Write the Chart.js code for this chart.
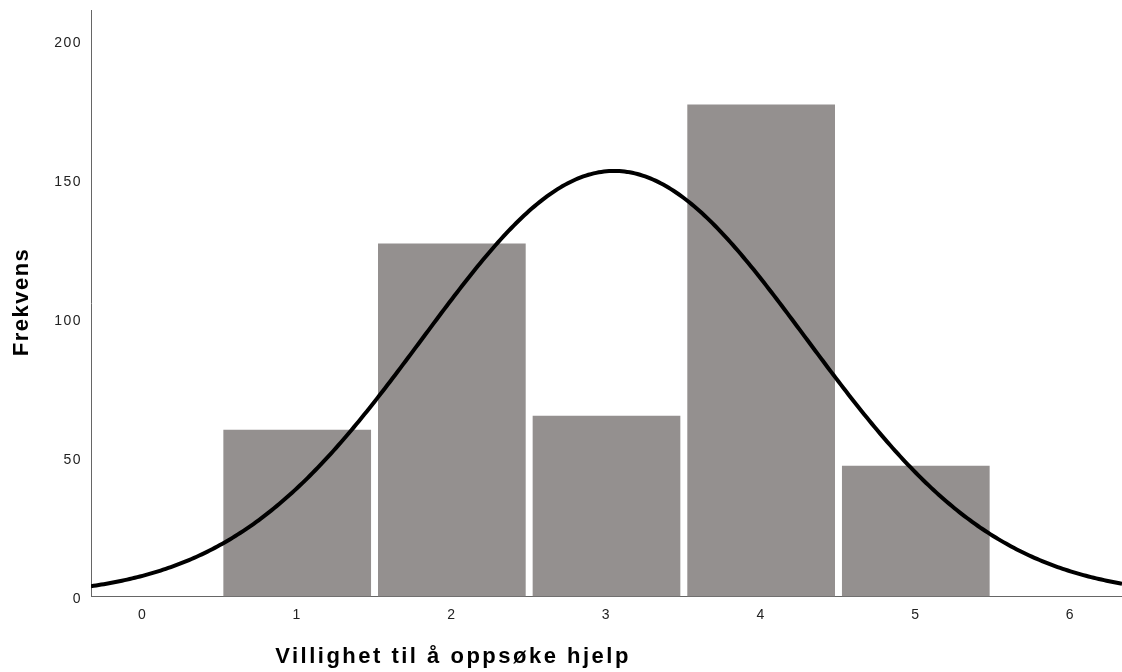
<!DOCTYPE html>
<html>
<head>
<meta charset="utf-8">
<script src="https://cdn.jsdelivr.net/npm/chart.js@4/dist/chart.umd.min.js"></script>
<style>
  html, body { margin: 0; padding: 0; background: #ffffff; }
  #wrap { width: 1122px; height: 672px; position: relative; }
</style>
</head>
<body>
<div id="wrap"><canvas id="chart"></canvas></div>
<script>
// Response categories and their counts
const categories = [1, 2, 3, 4, 5];
const frequencies = [60, 127, 65, 177, 47];

// Axis tick labels
const xTickValues = [0, 1, 2, 3, 4, 5, 6];
const yTickValues = [0, 50, 100, 150, 200];

// Axis ranges and titles
const xRange = [-1 / 3, 6 + 1 / 3];
const yMax = 211;
const xTitle = 'Villighet til å oppsøke hjelp';
const yTitle = 'Frekvens';

// Normal curve fitted to the counts (mean, sample SD, scaled by N * bin width)
const n = frequencies.reduce((a, b) => a + b, 0);
const mean = categories.reduce((s, c, i) => s + c * frequencies[i], 0) / n;
const sd = Math.sqrt(categories.reduce((s, c, i) => s + frequencies[i] * (c - mean) ** 2, 0) / (n - 1));
const curve = [];
for (let k = 0; k <= 400; k++) {
  const x = xRange[0] + (xRange[1] - xRange[0]) * k / 400;
  const y = n / (sd * Math.sqrt(2 * Math.PI)) * Math.exp(-0.5 * ((x - mean) / sd) ** 2);
  curve.push({ x, y });
}

const TITLE_FONT = 'bold 22px "Liberation Sans", Arial, sans-serif';

// Slightly spaced lettering throughout, plus the two axis titles
const lettering = {
  id: 'lettering',
  beforeDraw(chart) { chart.ctx.letterSpacing = '1.5px'; },
  afterDraw(chart) {
    const ctx = chart.ctx;
    ctx.save();
    ctx.fillStyle = '#000000';
    ctx.font = TITLE_FONT;
    ctx.textAlign = 'center';
    ctx.textBaseline = 'middle';
    ctx.letterSpacing = '2.5px';
    ctx.fillText(xTitle, 453, 657);
    ctx.letterSpacing = '1.5px';
    ctx.translate(22, 302);
    ctx.rotate(-Math.PI / 2);
    ctx.fillText(yTitle, 0, 0);
    ctx.restore();
  }
};

new Chart(document.getElementById('chart'), {
  type: 'bar',
  plugins: [lettering],
  data: {
    datasets: [
      {
        type: 'line',
        data: curve,
        borderColor: '#000000',
        borderWidth: 4,
        pointRadius: 0,
        tension: 0,
        fill: false,
        order: 0
      },
      {
        type: 'bar',
        data: categories.map((c, i) => ({ x: c, y: frequencies[i] })),
        backgroundColor: '#94908f',
        borderWidth: 0,
        barPercentage: 0.955,
        categoryPercentage: 1,
        order: 1
      }
    ]
  },
  options: {
    responsive: true,
    maintainAspectRatio: false,
    animation: false,
    layout: { padding: { top: 10, right: 0, left: 0, bottom: 0 } },
    plugins: { legend: { display: false }, tooltip: { enabled: false }, title: { display: false } },
    scales: {
      x: {
        type: 'linear',
        offset: false,
        min: xRange[0],
        max: xRange[1],
        afterBuildTicks(scale) { scale.ticks = xTickValues.map(v => ({ value: v })); },
        afterFit(scale) { scale.height = 75.5; scale.paddingLeft = 0; scale.paddingRight = 0; },
        grid: { display: false, drawTicks: false },
        border: { display: true, color: '#666666', width: 1 },
        ticks: { padding: 10, color: '#222222', font: { family: 'Liberation Sans', size: 14 }, maxRotation: 0 },
        title: { display: false }
      },
      y: {
        type: 'linear',
        min: 0,
        max: yMax,
        afterBuildTicks(scale) { scale.ticks = yTickValues.map(v => ({ value: v })); },
        afterFit(scale) { scale.width = 91; scale.paddingTop = 0; scale.paddingBottom = 0; },
        grid: { display: false, drawTicks: false },
        border: { display: true, color: '#666666', width: 1 },
        ticks: { padding: 9, labelOffset: 3, color: '#222222', font: { family: 'Liberation Sans', size: 14 } },
        title: { display: false }
      }
    }
  }
});
</script>
</body>
</html>
